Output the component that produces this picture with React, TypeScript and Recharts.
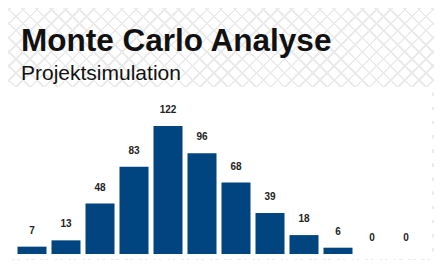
import { ComposedChart, Bar, Line, XAxis, YAxis, LabelList } from 'recharts';

const bins = ['1', '2', '3', '4', '5', '6', '7', '8', '9', '10', '11', '12'];
const counts = [7, 13, 48, 83, 122, 96, 68, 39, 18, 6, 0, 0];

const data = bins.map((bin, i) => ({ bin, count: counts[i] }));

const pattern =
  'repeating-linear-gradient(45deg, transparent 0px, transparent 8.2px, #ebebeb 8.2px, #ebebeb 10px),' +
  'repeating-linear-gradient(-45deg, transparent 0px, transparent 8.2px, #ebebeb 8.2px, #ebebeb 10px)';

export default function App() {
  return (
    <div
      style={{
        position: 'relative',
        width: 442,
        height: 268,
        margin: -8,
        overflow: 'hidden',
        background: '#fff',
        backgroundImage: pattern,
        fontFamily: '"Liberation Sans", Arial, sans-serif',
      }}
    >
      <div style={{ position: 'absolute', left: 21, top: 23, fontSize: 31.5, fontWeight: 'bold', color: '#111', lineHeight: 1.1, whiteSpace: 'nowrap' }}>
        Monte Carlo Analyse
      </div>
      <div style={{ position: 'absolute', left: 21, top: 61, fontSize: 21, color: '#111', lineHeight: 1.1, whiteSpace: 'nowrap' }}>
        Projektsimulation
      </div>
      <div style={{ position: 'absolute', left: 4, top: 87, width: 428, height: 172, background: '#fff' }} />
      <div style={{ position: 'absolute', left: 0, top: 0 }}>
        <ComposedChart
          width={442}
          height={268}
          data={data}
          margin={{ top: 107, right: 19, bottom: 14, left: 15 }}
          barCategoryGap={2.5}
        >
          <XAxis
            dataKey="bin"
            height={0}
            tick={false}
            tickLine={false}
            axisLine={{ stroke: '#dddddd', strokeWidth: 1.5 }}
          />
          <YAxis hide domain={[0, 140]} />
          <Bar dataKey="count" fill="#00457f" isAnimationActive={false} />
          <Line
            dataKey="count"
            stroke="none"
            dot={false}
            activeDot={false}
            isAnimationActive={false}
          >
            <LabelList
              dataKey="count"
              position="top"
              offset={13}
              style={{ fontSize: 10, fontWeight: 'bold', fill: '#222' }}
            />
          </Line>
        </ComposedChart>
      </div>
    </div>
  );
}
